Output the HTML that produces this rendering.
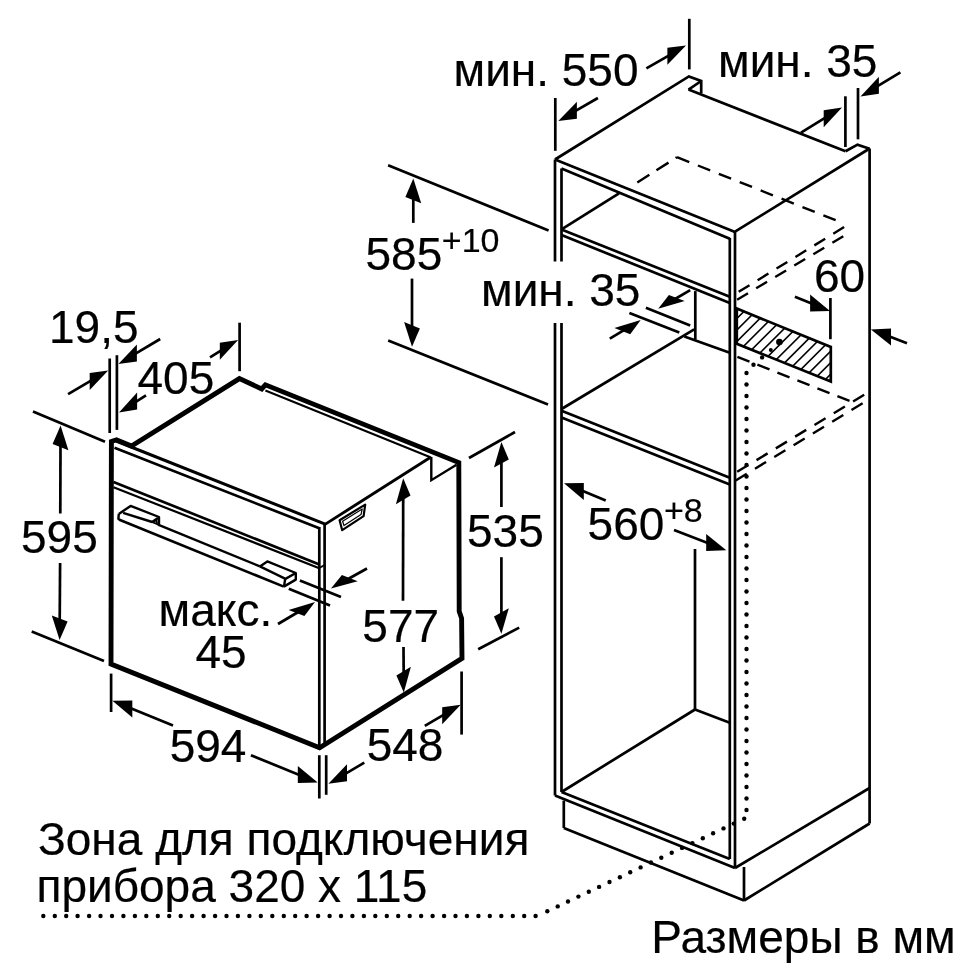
<!DOCTYPE html>
<html><head><meta charset="utf-8"><style>
html,body{margin:0;padding:0;background:#fff;}
svg{display:block;will-change:transform;}
</style></head><body>
<svg width="970" height="970" viewBox="0 0 970 970" font-family="Liberation Sans, sans-serif" fill="#000">
<rect width="970" height="970" fill="#fff"/>
<g stroke="#000" fill="none">
<polygon points="111.0,664.0 111.4,441.5 116.5,439.8 131.5,446.0 239.4,378.6 261.7,388.9 265.4,384.8 458.8,462.6 459.2,611.3 461.6,618.3 462.0,658.4 319.6,747.8 111.0,664.0" stroke-width="4.9" fill="none" stroke-linejoin="miter"/>
<line x1="116.0" y1="441.0" x2="325.8" y2="524.3" stroke-width="3.0" stroke-linecap="butt"/>
<line x1="114.5" y1="447.8" x2="319.3" y2="528.3" stroke-width="2.7" stroke-linecap="butt"/>
<line x1="265.4" y1="390.5" x2="431.0" y2="457.5" stroke-width="2.0" stroke-linecap="butt"/>
<line x1="113.5" y1="481.9" x2="319.3" y2="564.5" stroke-width="2.7" stroke-linecap="butt"/>
<line x1="113.5" y1="487.2" x2="319.3" y2="568.2" stroke-width="2.2" stroke-linecap="butt"/>
<line x1="319.3" y1="568.0" x2="324.6" y2="565.0" stroke-width="2.0" stroke-linecap="butt"/>
<line x1="319.3" y1="527.0" x2="319.3" y2="747.0" stroke-width="2.7" stroke-linecap="butt"/>
<line x1="324.6" y1="523.0" x2="324.6" y2="744.0" stroke-width="2.7" stroke-linecap="butt"/>
<line x1="324.6" y1="524.6" x2="429.8" y2="457.8" stroke-width="2.9" stroke-linecap="butt"/>
<polyline points="431.3,457.0 431.3,480.2 456.5,464.7" stroke-width="2.4" fill="none" stroke-linejoin="miter"/>
<polygon points="339.6,520.2 365.2,504.6 363.6,516.2 342.2,530.2" stroke-width="2.2" fill="none" stroke-linejoin="round"/>
<polygon points="342.6,521.2 362.2,509.0 361.0,514.6 344.0,525.6" stroke-width="1.2" fill="none" stroke-linejoin="round"/>
<line x1="119.4" y1="519.8" x2="283.8" y2="586.6" stroke-width="2.6" stroke-linecap="butt"/>
<line x1="158.0" y1="524.7" x2="259.9" y2="566.4" stroke-width="2.4" stroke-linecap="butt"/>
<polyline points="118.8,513.9 130.6,505.9 159.0,517.0 159.0,524.1" stroke-width="2.4" fill="none" stroke-linejoin="round"/>
<polyline points="118.8,513.9 118.4,518.8 120.0,520.2" stroke-width="2.4" fill="none" stroke-linejoin="round"/>
<line x1="123.1" y1="512.8" x2="152.2" y2="522.0" stroke-width="2.4" stroke-linecap="butt"/>
<line x1="152.2" y1="522.0" x2="158.0" y2="518.0" stroke-width="2.7" stroke-linecap="butt"/>
<polygon points="152.8,522.3 156.5,520.0 157.1,524.1" stroke-width="1.8" fill="none" stroke-linejoin="miter"/>
<polyline points="259.9,566.4 267.3,561.4 295.8,573.0 295.8,579.6 283.8,586.6" stroke-width="2.4" fill="none" stroke-linejoin="round"/>
<polyline points="259.9,566.4 285.5,578.8 295.8,573.0" stroke-width="2.4" fill="none" stroke-linejoin="miter"/>
<line x1="285.2" y1="578.8" x2="284.0" y2="586.6" stroke-width="2.4" stroke-linecap="butt"/>
<line x1="109.7" y1="358.5" x2="109.7" y2="433.0" stroke-width="2.7" stroke-linecap="butt"/>
<line x1="116.9" y1="355.2" x2="116.9" y2="429.9" stroke-width="2.7" stroke-linecap="butt"/>
<line x1="239.6" y1="322.7" x2="239.6" y2="371.2" stroke-width="2.7" stroke-linecap="butt"/>
<line x1="68.1" y1="394.2" x2="92.3" y2="379.8" stroke-width="2.7" stroke-linecap="butt"/>
<polygon points="108.2,370.4 89.7,389.9 89.7,372.9" fill="#000" stroke="none"/>
<line x1="160.2" y1="339.0" x2="134.3" y2="354.4" stroke-width="2.7" stroke-linecap="butt"/>
<polygon points="118.4,363.9 136.9,361.4 136.9,344.4" fill="#000" stroke="none"/>
<line x1="146.0" y1="395.3" x2="134.6" y2="402.6" stroke-width="2.7" stroke-linecap="butt"/>
<polygon points="119.0,412.6 137.1,409.5 137.1,392.5" fill="#000" stroke="none"/>
<line x1="210.0" y1="357.4" x2="222.4" y2="349.7" stroke-width="2.7" stroke-linecap="butt"/>
<polygon points="238.1,340.0 219.8,359.8 219.8,342.8" fill="#000" stroke="none"/>
<text x="49" y="342.5" font-size="46" fill="#000" stroke="#000" stroke-width="0.2">19,5</text>
<text x="137.5" y="393.5" font-size="46" fill="#000" stroke="#000" stroke-width="0.2">405</text>
<line x1="33.0" y1="411.5" x2="105.0" y2="441.8" stroke-width="2.7" stroke-linecap="butt"/>
<line x1="31.7" y1="631.6" x2="104.0" y2="661.0" stroke-width="2.7" stroke-linecap="butt"/>
<line x1="60.3" y1="513.4" x2="60.5" y2="444.1" stroke-width="2.7" stroke-linecap="butt"/>
<polygon points="60.6,425.6 68.4,450.2 52.6,444.0" fill="#000" stroke="none"/>
<line x1="60.1" y1="562.9" x2="59.7" y2="621.5" stroke-width="2.7" stroke-linecap="butt"/>
<polygon points="59.6,640.0 67.6,621.6 51.8,615.4" fill="#000" stroke="none"/>
<text x="21" y="552.5" font-size="46" fill="#000" stroke="#000" stroke-width="0.2">595</text>
<line x1="469.0" y1="458.0" x2="515.0" y2="432.0" stroke-width="2.7" stroke-linecap="butt"/>
<line x1="478.2" y1="649.2" x2="519.2" y2="627.6" stroke-width="2.7" stroke-linecap="butt"/>
<line x1="501.4" y1="507.0" x2="501.4" y2="460.5" stroke-width="2.7" stroke-linecap="butt"/>
<polygon points="501.4,442.0 508.8,459.4 494.0,467.6" fill="#000" stroke="none"/>
<line x1="501.4" y1="557.2" x2="501.4" y2="615.3" stroke-width="2.7" stroke-linecap="butt"/>
<polygon points="501.4,633.8 508.8,608.2 494.0,616.4" fill="#000" stroke="none"/>
<text x="467" y="546.5" font-size="46" fill="#000" stroke="#000" stroke-width="0.2">535</text>
<line x1="403.0" y1="600.7" x2="403.2" y2="496.8" stroke-width="2.7" stroke-linecap="butt"/>
<polygon points="403.2,478.3 410.5,495.4 395.9,504.2" fill="#000" stroke="none"/>
<line x1="403.5" y1="647.0" x2="403.7" y2="674.1" stroke-width="2.7" stroke-linecap="butt"/>
<polygon points="403.8,692.6 410.9,666.7 396.4,675.5" fill="#000" stroke="none"/>
<text x="362.3" y="642" font-size="46" fill="#000" stroke="#000" stroke-width="0.2">577</text>
<line x1="299.9" y1="580.4" x2="341.0" y2="597.0" stroke-width="2.7" stroke-linecap="butt"/>
<line x1="288.8" y1="588.7" x2="330.0" y2="605.6" stroke-width="2.7" stroke-linecap="butt"/>
<line x1="367.0" y1="568.5" x2="347.2" y2="579.5" stroke-width="2.7" stroke-linecap="butt"/>
<polygon points="331.0,588.5 357.7,581.2 341.9,574.9" fill="#000" stroke="none"/>
<line x1="278.0" y1="624.0" x2="299.1" y2="611.5" stroke-width="2.7" stroke-linecap="butt"/>
<polygon points="315.0,602.0 304.4,616.1 288.6,609.9" fill="#000" stroke="none"/>
<text x="158.6" y="625.8" font-size="46" fill="#000" stroke="#000" stroke-width="0.2">макс.</text>
<text x="195.4" y="668.3" font-size="46" fill="#000" stroke="#000" stroke-width="0.2">45</text>
<line x1="111.1" y1="673.6" x2="111.1" y2="712.0" stroke-width="2.7" stroke-linecap="butt"/>
<line x1="319.3" y1="755.2" x2="319.3" y2="798.5" stroke-width="2.7" stroke-linecap="butt"/>
<line x1="326.2" y1="755.2" x2="326.2" y2="794.8" stroke-width="2.7" stroke-linecap="butt"/>
<line x1="173.0" y1="725.6" x2="129.5" y2="707.8" stroke-width="2.7" stroke-linecap="butt"/>
<polygon points="112.4,700.8 132.3,717.4 132.3,700.4" fill="#000" stroke="none"/>
<line x1="250.9" y1="755.2" x2="300.6" y2="775.5" stroke-width="2.7" stroke-linecap="butt"/>
<polygon points="317.7,782.5 297.8,782.9 297.8,765.9" fill="#000" stroke="none"/>
<text x="169.7" y="761.5" font-size="46" fill="#000" stroke="#000" stroke-width="0.2">594</text>
<line x1="461.6" y1="671.5" x2="461.6" y2="734.6" stroke-width="2.7" stroke-linecap="butt"/>
<line x1="364.3" y1="762.7" x2="344.4" y2="774.4" stroke-width="2.7" stroke-linecap="butt"/>
<polygon points="328.4,783.7 347.0,781.3 347.0,764.3" fill="#000" stroke="none"/>
<line x1="424.8" y1="725.9" x2="444.8" y2="714.2" stroke-width="2.7" stroke-linecap="butt"/>
<polygon points="460.7,704.8 442.2,724.2 442.2,707.2" fill="#000" stroke="none"/>
<text x="366.7" y="761" font-size="46" fill="#000" stroke="#000" stroke-width="0.2">548</text>
<line x1="555.0" y1="159.5" x2="555.0" y2="261.5" stroke-width="2.7" stroke-linecap="butt"/>
<line x1="555.0" y1="323.0" x2="555.0" y2="795.5" stroke-width="2.7" stroke-linecap="butt"/>
<line x1="561.5" y1="168.5" x2="561.5" y2="261.5" stroke-width="2.7" stroke-linecap="butt"/>
<line x1="561.5" y1="323.0" x2="561.5" y2="792.0" stroke-width="2.7" stroke-linecap="butt"/>
<line x1="555.0" y1="159.5" x2="735.0" y2="232.0" stroke-width="2.7" stroke-linecap="butt"/>
<line x1="561.5" y1="168.5" x2="729.8" y2="238.7" stroke-width="2.7" stroke-linecap="butt"/>
<line x1="735.0" y1="231.5" x2="735.0" y2="868.0" stroke-width="2.7" stroke-linecap="butt"/>
<line x1="729.8" y1="238.0" x2="729.8" y2="859.0" stroke-width="2.7" stroke-linecap="butt"/>
<line x1="555.0" y1="795.5" x2="735.0" y2="868.0" stroke-width="2.7" stroke-linecap="butt"/>
<line x1="561.5" y1="792.0" x2="729.8" y2="859.0" stroke-width="2.7" stroke-linecap="butt"/>
<polyline points="555.0,159.5 688.9,76.4 701.2,80.9 701.2,93.3" stroke-width="2.7" fill="none" stroke-linejoin="miter"/>
<line x1="688.5" y1="89.6" x2="701.2" y2="81.0" stroke-width="2.7" stroke-linecap="butt"/>
<line x1="688.5" y1="89.6" x2="845.5" y2="151.3" stroke-width="2.7" stroke-linecap="butt"/>
<polyline points="845.5,151.3 857.5,144.6 869.6,148.7" stroke-width="2.7" fill="none" stroke-linejoin="miter"/>
<line x1="735.0" y1="231.7" x2="869.6" y2="148.5" stroke-width="2.7" stroke-linecap="butt"/>
<line x1="869.6" y1="148.5" x2="869.6" y2="823.5" stroke-width="2.7" stroke-linecap="butt"/>
<line x1="735.0" y1="868.0" x2="869.6" y2="788.0" stroke-width="2.7" stroke-linecap="butt"/>
<line x1="563.8" y1="800.6" x2="563.8" y2="828.0" stroke-width="2.7" stroke-linecap="butt"/>
<line x1="563.8" y1="828.0" x2="744.0" y2="900.5" stroke-width="2.7" stroke-linecap="butt"/>
<line x1="744.0" y1="867.0" x2="744.0" y2="900.5" stroke-width="2.7" stroke-linecap="butt"/>
<line x1="744.0" y1="900.5" x2="869.6" y2="823.5" stroke-width="2.7" stroke-linecap="butt"/>
<line x1="561.5" y1="229.4" x2="729.8" y2="296.8" stroke-width="2.7" stroke-linecap="butt"/>
<line x1="561.5" y1="235.0" x2="729.8" y2="303.0" stroke-width="2.7" stroke-linecap="butt"/>
<line x1="561.5" y1="229.4" x2="619.0" y2="193.3" stroke-width="2.7" stroke-linecap="butt"/>
<line x1="695.3" y1="291.1" x2="695.3" y2="339.6" stroke-width="2.7" stroke-linecap="butt"/>
<line x1="684.4" y1="336.5" x2="729.8" y2="352.8" stroke-width="2.7" stroke-linecap="butt"/>
<line x1="561.5" y1="409.0" x2="694.2" y2="329.3" stroke-width="2.7" stroke-linecap="butt"/>
<line x1="561.5" y1="410.8" x2="729.8" y2="477.8" stroke-width="2.7" stroke-linecap="butt"/>
<line x1="561.5" y1="417.5" x2="729.8" y2="484.5" stroke-width="2.7" stroke-linecap="butt"/>
<line x1="695.0" y1="549.0" x2="695.0" y2="709.5" stroke-width="2.7" stroke-linecap="butt"/>
<line x1="561.5" y1="792.0" x2="695.0" y2="709.5" stroke-width="2.7" stroke-linecap="butt"/>
<line x1="695.0" y1="709.5" x2="729.8" y2="722.7" stroke-width="2.7" stroke-linecap="butt"/>
<polygon points="736.8,308.6 830.8,346.9 830.8,381.5 736.8,343.8" stroke-width="2.7" fill="none" stroke-linejoin="miter"/>
<clipPath id="hc"><polygon points="736.8,308.6 830.8,346.9 830.8,381.5 736.8,343.8"/></clipPath>
<g clip-path="url(#hc)"><line x1="601.4" y1="385" x2="681.4" y2="305" stroke-width="1.6"/><line x1="612.9" y1="385" x2="692.9" y2="305" stroke-width="1.6"/><line x1="624.4" y1="385" x2="704.4" y2="305" stroke-width="1.6"/><line x1="635.9" y1="385" x2="715.9" y2="305" stroke-width="1.6"/><line x1="647.4" y1="385" x2="727.4" y2="305" stroke-width="1.6"/><line x1="658.9" y1="385" x2="738.9" y2="305" stroke-width="1.6"/><line x1="670.4" y1="385" x2="750.4" y2="305" stroke-width="1.6"/><line x1="681.9" y1="385" x2="761.9" y2="305" stroke-width="1.6"/><line x1="693.4" y1="385" x2="773.4" y2="305" stroke-width="1.6"/><line x1="704.9" y1="385" x2="784.9" y2="305" stroke-width="1.6"/><line x1="716.4" y1="385" x2="796.4" y2="305" stroke-width="1.6"/><line x1="727.9" y1="385" x2="807.9" y2="305" stroke-width="1.6"/><line x1="739.4" y1="385" x2="819.4" y2="305" stroke-width="1.6"/><line x1="750.9" y1="385" x2="830.9" y2="305" stroke-width="1.6"/><line x1="762.4" y1="385" x2="842.4" y2="305" stroke-width="1.6"/><line x1="773.9" y1="385" x2="853.9" y2="305" stroke-width="1.6"/><line x1="785.4" y1="385" x2="865.4" y2="305" stroke-width="1.6"/><line x1="796.9" y1="385" x2="876.9" y2="305" stroke-width="1.6"/><line x1="808.4" y1="385" x2="888.4" y2="305" stroke-width="1.6"/><line x1="819.9" y1="385" x2="899.9" y2="305" stroke-width="1.6"/><line x1="831.4" y1="385" x2="911.4" y2="305" stroke-width="1.6"/><line x1="842.9" y1="385" x2="922.9" y2="305" stroke-width="1.6"/></g>
<circle cx="779.4" cy="342.0" r="3.3" fill="#000" stroke="none"/>
<circle cx="770.8" cy="350.0" r="2.0" fill="#000" stroke="none"/>
<line x1="637.3" y1="182.5" x2="677.0" y2="157.2" stroke-width="2.4" stroke-dasharray="14.3 8.4" stroke-dashoffset="0"/>
<line x1="677.0" y1="157.2" x2="843.7" y2="223.4" stroke-width="2.4" stroke-dasharray="13.2 9.3" stroke-dashoffset="0"/>
<line x1="844.1" y1="227.1" x2="735.8" y2="293.6" stroke-width="2.4" stroke-dasharray="12.7 9.5" stroke-dashoffset="0"/>
<line x1="843.3" y1="236.3" x2="735.8" y2="300.5" stroke-width="2.4" stroke-dasharray="12.7 9.5" stroke-dashoffset="0"/>
<line x1="737.4" y1="356.8" x2="851.4" y2="401.7" stroke-width="2.4" stroke-dasharray="13 8.5" stroke-dashoffset="0"/>
<line x1="864.2" y1="394.7" x2="734.3" y2="473.6" stroke-width="2.4" stroke-dasharray="13 9.6" stroke-dashoffset="0"/>
<line x1="862.6" y1="403.2" x2="734.3" y2="481.3" stroke-width="2.4" stroke-dasharray="13 9.6" stroke-dashoffset="0"/>
<circle cx="746.5" cy="373.0" r="2.2" fill="#000" stroke="none"/>
<circle cx="746.5" cy="384.5" r="2.2" fill="#000" stroke="none"/>
<circle cx="746.5" cy="396.0" r="2.2" fill="#000" stroke="none"/>
<circle cx="746.5" cy="407.5" r="2.2" fill="#000" stroke="none"/>
<circle cx="746.5" cy="419.0" r="2.2" fill="#000" stroke="none"/>
<circle cx="746.5" cy="430.5" r="2.2" fill="#000" stroke="none"/>
<circle cx="746.5" cy="442.0" r="2.2" fill="#000" stroke="none"/>
<circle cx="746.5" cy="453.5" r="2.2" fill="#000" stroke="none"/>
<circle cx="746.5" cy="465.0" r="2.2" fill="#000" stroke="none"/>
<circle cx="746.5" cy="476.5" r="2.2" fill="#000" stroke="none"/>
<circle cx="746.5" cy="488.0" r="2.2" fill="#000" stroke="none"/>
<circle cx="746.5" cy="499.5" r="2.2" fill="#000" stroke="none"/>
<circle cx="746.5" cy="511.0" r="2.2" fill="#000" stroke="none"/>
<circle cx="746.5" cy="522.5" r="2.2" fill="#000" stroke="none"/>
<circle cx="746.5" cy="534.0" r="2.2" fill="#000" stroke="none"/>
<circle cx="746.5" cy="545.5" r="2.2" fill="#000" stroke="none"/>
<circle cx="746.5" cy="557.0" r="2.2" fill="#000" stroke="none"/>
<circle cx="746.5" cy="568.5" r="2.2" fill="#000" stroke="none"/>
<circle cx="746.5" cy="580.0" r="2.2" fill="#000" stroke="none"/>
<circle cx="746.5" cy="591.5" r="2.2" fill="#000" stroke="none"/>
<circle cx="746.5" cy="603.0" r="2.2" fill="#000" stroke="none"/>
<circle cx="746.5" cy="614.5" r="2.2" fill="#000" stroke="none"/>
<circle cx="746.5" cy="626.0" r="2.2" fill="#000" stroke="none"/>
<circle cx="746.5" cy="637.5" r="2.2" fill="#000" stroke="none"/>
<circle cx="746.5" cy="649.0" r="2.2" fill="#000" stroke="none"/>
<circle cx="746.5" cy="660.5" r="2.2" fill="#000" stroke="none"/>
<circle cx="746.5" cy="672.0" r="2.2" fill="#000" stroke="none"/>
<circle cx="746.5" cy="683.5" r="2.2" fill="#000" stroke="none"/>
<circle cx="746.5" cy="695.0" r="2.2" fill="#000" stroke="none"/>
<circle cx="746.5" cy="706.5" r="2.2" fill="#000" stroke="none"/>
<circle cx="746.5" cy="718.0" r="2.2" fill="#000" stroke="none"/>
<circle cx="746.5" cy="729.5" r="2.2" fill="#000" stroke="none"/>
<circle cx="746.5" cy="741.0" r="2.2" fill="#000" stroke="none"/>
<circle cx="746.5" cy="752.5" r="2.2" fill="#000" stroke="none"/>
<circle cx="746.5" cy="764.0" r="2.2" fill="#000" stroke="none"/>
<circle cx="746.5" cy="775.5" r="2.2" fill="#000" stroke="none"/>
<circle cx="746.5" cy="787.0" r="2.2" fill="#000" stroke="none"/>
<circle cx="746.5" cy="798.5" r="2.2" fill="#000" stroke="none"/>
<circle cx="746.5" cy="810.0" r="2.2" fill="#000" stroke="none"/>
<circle cx="753.5" cy="364.8" r="2.2" fill="#000" stroke="none"/>
<circle cx="762.1" cy="357.4" r="2.2" fill="#000" stroke="none"/>
<circle cx="744.2" cy="818.7" r="2.2" fill="#000" stroke="none"/>
<circle cx="733.8" cy="823.6" r="2.2" fill="#000" stroke="none"/>
<circle cx="723.5" cy="828.4" r="2.2" fill="#000" stroke="none"/>
<circle cx="713.1" cy="833.3" r="2.2" fill="#000" stroke="none"/>
<circle cx="702.8" cy="838.2" r="2.2" fill="#000" stroke="none"/>
<circle cx="692.4" cy="843.1" r="2.2" fill="#000" stroke="none"/>
<circle cx="682.0" cy="847.9" r="2.2" fill="#000" stroke="none"/>
<circle cx="671.7" cy="852.8" r="2.2" fill="#000" stroke="none"/>
<circle cx="661.3" cy="857.7" r="2.2" fill="#000" stroke="none"/>
<circle cx="650.9" cy="862.5" r="2.2" fill="#000" stroke="none"/>
<circle cx="640.6" cy="867.4" r="2.2" fill="#000" stroke="none"/>
<circle cx="630.2" cy="872.3" r="2.2" fill="#000" stroke="none"/>
<circle cx="619.9" cy="877.2" r="2.2" fill="#000" stroke="none"/>
<circle cx="609.5" cy="882.0" r="2.2" fill="#000" stroke="none"/>
<circle cx="599.1" cy="886.9" r="2.2" fill="#000" stroke="none"/>
<circle cx="588.8" cy="891.8" r="2.2" fill="#000" stroke="none"/>
<circle cx="578.4" cy="896.6" r="2.2" fill="#000" stroke="none"/>
<circle cx="568.0" cy="901.5" r="2.2" fill="#000" stroke="none"/>
<circle cx="557.7" cy="906.4" r="2.2" fill="#000" stroke="none"/>
<circle cx="547.3" cy="911.3" r="2.2" fill="#000" stroke="none"/>
<circle cx="43.3" cy="916.0" r="2.2" fill="#000" stroke="none"/>
<circle cx="54.8" cy="916.0" r="2.2" fill="#000" stroke="none"/>
<circle cx="66.2" cy="916.0" r="2.2" fill="#000" stroke="none"/>
<circle cx="77.6" cy="916.0" r="2.2" fill="#000" stroke="none"/>
<circle cx="89.1" cy="916.0" r="2.2" fill="#000" stroke="none"/>
<circle cx="100.5" cy="916.0" r="2.2" fill="#000" stroke="none"/>
<circle cx="112.0" cy="916.0" r="2.2" fill="#000" stroke="none"/>
<circle cx="123.4" cy="916.0" r="2.2" fill="#000" stroke="none"/>
<circle cx="134.9" cy="916.0" r="2.2" fill="#000" stroke="none"/>
<circle cx="146.3" cy="916.0" r="2.2" fill="#000" stroke="none"/>
<circle cx="157.8" cy="916.0" r="2.2" fill="#000" stroke="none"/>
<circle cx="169.2" cy="916.0" r="2.2" fill="#000" stroke="none"/>
<circle cx="180.7" cy="916.0" r="2.2" fill="#000" stroke="none"/>
<circle cx="192.1" cy="916.0" r="2.2" fill="#000" stroke="none"/>
<circle cx="203.6" cy="916.0" r="2.2" fill="#000" stroke="none"/>
<circle cx="215.1" cy="916.0" r="2.2" fill="#000" stroke="none"/>
<circle cx="226.5" cy="916.0" r="2.2" fill="#000" stroke="none"/>
<circle cx="237.9" cy="916.0" r="2.2" fill="#000" stroke="none"/>
<circle cx="249.4" cy="916.0" r="2.2" fill="#000" stroke="none"/>
<circle cx="260.8" cy="916.0" r="2.2" fill="#000" stroke="none"/>
<circle cx="272.3" cy="916.0" r="2.2" fill="#000" stroke="none"/>
<circle cx="283.8" cy="916.0" r="2.2" fill="#000" stroke="none"/>
<circle cx="295.2" cy="916.0" r="2.2" fill="#000" stroke="none"/>
<circle cx="306.6" cy="916.0" r="2.2" fill="#000" stroke="none"/>
<circle cx="318.1" cy="916.0" r="2.2" fill="#000" stroke="none"/>
<circle cx="329.6" cy="916.0" r="2.2" fill="#000" stroke="none"/>
<circle cx="341.0" cy="916.0" r="2.2" fill="#000" stroke="none"/>
<circle cx="352.4" cy="916.0" r="2.2" fill="#000" stroke="none"/>
<circle cx="363.9" cy="916.0" r="2.2" fill="#000" stroke="none"/>
<circle cx="375.3" cy="916.0" r="2.2" fill="#000" stroke="none"/>
<circle cx="386.8" cy="916.0" r="2.2" fill="#000" stroke="none"/>
<circle cx="398.2" cy="916.0" r="2.2" fill="#000" stroke="none"/>
<circle cx="409.7" cy="916.0" r="2.2" fill="#000" stroke="none"/>
<circle cx="421.1" cy="916.0" r="2.2" fill="#000" stroke="none"/>
<circle cx="432.6" cy="916.0" r="2.2" fill="#000" stroke="none"/>
<circle cx="444.1" cy="916.0" r="2.2" fill="#000" stroke="none"/>
<circle cx="455.5" cy="916.0" r="2.2" fill="#000" stroke="none"/>
<circle cx="466.9" cy="916.0" r="2.2" fill="#000" stroke="none"/>
<circle cx="478.4" cy="916.0" r="2.2" fill="#000" stroke="none"/>
<circle cx="489.8" cy="916.0" r="2.2" fill="#000" stroke="none"/>
<circle cx="501.3" cy="916.0" r="2.2" fill="#000" stroke="none"/>
<circle cx="512.8" cy="916.0" r="2.2" fill="#000" stroke="none"/>
<circle cx="524.2" cy="916.0" r="2.2" fill="#000" stroke="none"/>
<circle cx="535.6" cy="916.0" r="2.2" fill="#000" stroke="none"/>
<line x1="555.3" y1="98.0" x2="555.3" y2="150.8" stroke-width="2.7" stroke-linecap="butt"/>
<line x1="689.3" y1="18.8" x2="689.3" y2="69.4" stroke-width="2.7" stroke-linecap="butt"/>
<line x1="597.9" y1="98.0" x2="574.3" y2="111.7" stroke-width="2.7" stroke-linecap="butt"/>
<polygon points="558.3,121.0 576.9,118.7 576.9,101.7" fill="#000" stroke="none"/>
<line x1="646.4" y1="68.4" x2="670.0" y2="54.8" stroke-width="2.7" stroke-linecap="butt"/>
<polygon points="686.0,45.6 667.4,64.8 667.4,47.8" fill="#000" stroke="none"/>
<text x="453.5" y="86" font-size="46" fill="#000" stroke="#000" stroke-width="0.2">мин. 550</text>
<line x1="845.4" y1="96.3" x2="845.4" y2="147.0" stroke-width="2.7" stroke-linecap="butt"/>
<line x1="858.0" y1="88.0" x2="858.0" y2="139.3" stroke-width="2.7" stroke-linecap="butt"/>
<line x1="801.0" y1="132.6" x2="826.2" y2="117.2" stroke-width="2.7" stroke-linecap="butt"/>
<polygon points="842.0,107.5 823.7,127.2 823.7,110.2" fill="#000" stroke="none"/>
<line x1="900.4" y1="72.3" x2="876.3" y2="86.8" stroke-width="2.7" stroke-linecap="butt"/>
<polygon points="860.5,96.4 878.9,93.8 878.9,76.8" fill="#000" stroke="none"/>
<text x="718" y="76.5" font-size="46" fill="#000" stroke="#000" stroke-width="0.2">мин. 35</text>
<line x1="388.1" y1="165.2" x2="548.6" y2="230.5" stroke-width="2.7" stroke-linecap="butt"/>
<line x1="388.2" y1="340.6" x2="548.0" y2="404.5" stroke-width="2.7" stroke-linecap="butt"/>
<line x1="413.3" y1="222.9" x2="413.3" y2="197.1" stroke-width="2.7" stroke-linecap="butt"/>
<polygon points="413.3,178.6 421.2,203.3 405.4,196.9" fill="#000" stroke="none"/>
<line x1="412.0" y1="278.6" x2="412.0" y2="328.3" stroke-width="2.7" stroke-linecap="butt"/>
<polygon points="412.0,346.8 419.9,328.5 404.1,322.1" fill="#000" stroke="none"/>
<text x="365.5" y="269.5" font-size="46" fill="#000" stroke="#000" stroke-width="0.2">585</text>
<text x="441.8" y="252" font-size="34" fill="#000" stroke="#000" stroke-width="0.2">+10</text>
<line x1="645.9" y1="307.7" x2="690.2" y2="325.5" stroke-width="2.7" stroke-linecap="butt"/>
<line x1="629.4" y1="312.9" x2="679.3" y2="332.5" stroke-width="2.7" stroke-linecap="butt"/>
<line x1="690.2" y1="290.2" x2="674.2" y2="299.5" stroke-width="2.7" stroke-linecap="butt"/>
<polygon points="658.2,308.8 684.7,301.1 668.9,294.9" fill="#000" stroke="none"/>
<line x1="609.8" y1="338.7" x2="624.8" y2="329.6" stroke-width="2.7" stroke-linecap="butt"/>
<polygon points="640.7,320.1 630.2,334.3 614.4,328.1" fill="#000" stroke="none"/>
<text x="481" y="306" font-size="46" fill="#000" stroke="#000" stroke-width="0.2">мин. 35</text>
<line x1="830.4" y1="298.0" x2="830.4" y2="339.2" stroke-width="2.7" stroke-linecap="butt"/>
<line x1="794.9" y1="296.8" x2="812.9" y2="304.1" stroke-width="2.7" stroke-linecap="butt"/>
<polygon points="830.0,311.0 810.1,311.4 810.1,294.4" fill="#000" stroke="none"/>
<text x="814" y="291.5" font-size="46" fill="#000" stroke="#000" stroke-width="0.2">60</text>
<line x1="907.0" y1="343.2" x2="888.2" y2="336.1" stroke-width="2.7" stroke-linecap="butt"/>
<polygon points="870.9,329.5 891.0,345.6 891.0,328.6" fill="#000" stroke="none"/>
<line x1="605.7" y1="500.6" x2="581.1" y2="490.3" stroke-width="2.7" stroke-linecap="butt"/>
<polygon points="564.0,483.2 583.8,500.0 583.8,483.0" fill="#000" stroke="none"/>
<line x1="674.0" y1="530.0" x2="709.0" y2="543.5" stroke-width="2.7" stroke-linecap="butt"/>
<polygon points="726.3,550.2 706.2,551.0 706.2,534.0" fill="#000" stroke="none"/>
<text x="587.6" y="539.5" font-size="46" fill="#000" stroke="#000" stroke-width="0.2">560</text>
<text x="664" y="522" font-size="34" fill="#000" stroke="#000" stroke-width="0.2">+8</text>
<text x="38" y="854.5" font-size="46" fill="#000" stroke="#000" stroke-width="0.2">Зона для подключения</text>
<text x="36.5" y="901.5" font-size="46" fill="#000" stroke="#000" stroke-width="0.2">прибора 320 x 115</text>
<text x="651.3" y="952.8" font-size="46" fill="#000" stroke="#000" stroke-width="0.2">Размеры в мм</text>
</g>
</svg></body></html>
